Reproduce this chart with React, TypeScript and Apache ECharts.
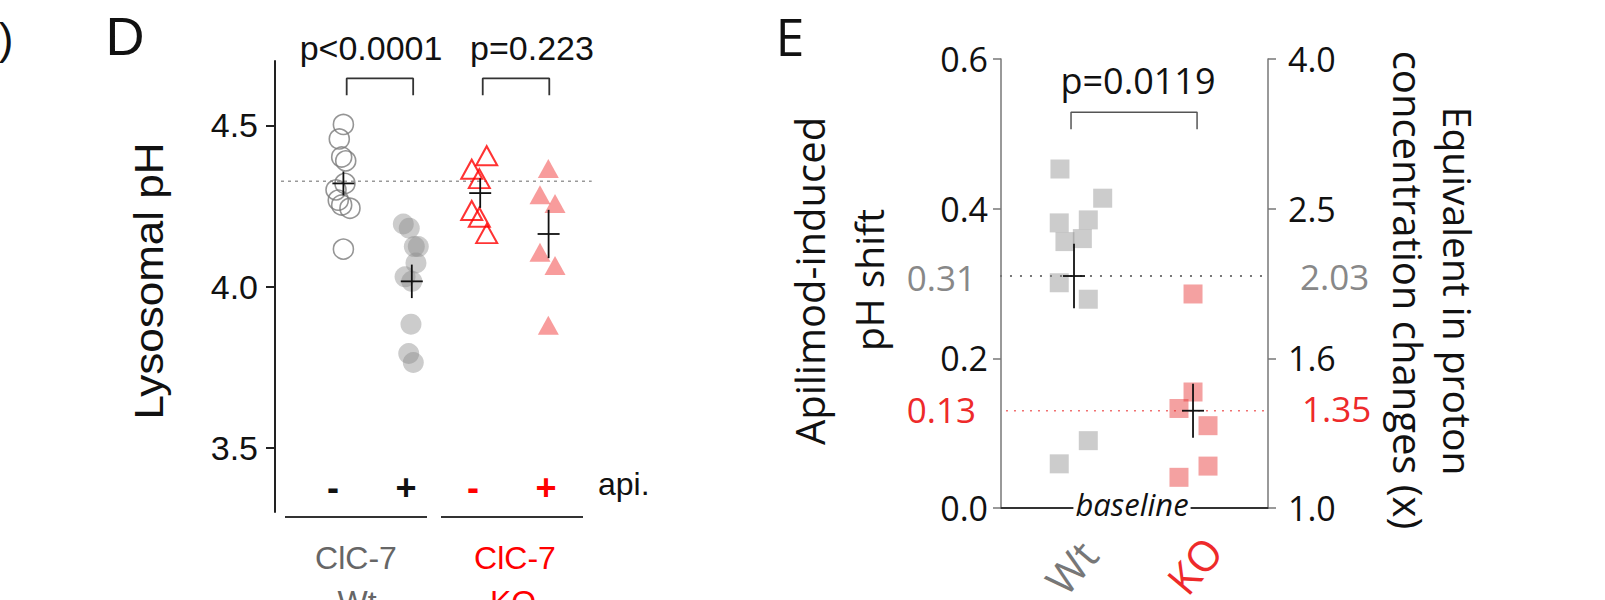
import React, { useEffect, useRef } from "react";
import * as echarts from "echarts";

// ---------- Panel D data (Lysosomal pH) ----------
const dGroups = ["ClC-7 Wt −", "ClC-7 Wt +", "ClC-7 KO −", "ClC-7 KO +"];
const dGroupPos = [1, 2, 3, 4];
const wtCtrl = [4.503, 4.458, 4.402, 4.39, 4.32, 4.3, 4.268, 4.253, 4.243, 4.116];
const wtCtrlJit = [0, -0.06, -0.025, 0.034, 0.023, -0.108, -0.075, -0.025, 0.096, 0];
const wtApi = [4.194, 4.181, 4.124, 4.124, 4.073, 4.03, 4.016, 3.883, 3.792, 3.764];
const wtApiJit = [-0.124, -0.037, 0.037, 0.095, 0.061, -0.099, 0, -0.012, -0.045, 0.022];
const koCtrl = [4.406, 4.364, 4.335, 4.236, 4.215, 4.164];
const koCtrlJit = [0.095, -0.124, -0.013, -0.124, -0.013, 0.095];
const koApi = [4.366, 4.285, 4.258, 4.106, 4.065, 3.88];
const koApiJit = [-0.004, -0.126, 0.094, -0.126, 0.094, -0.004];
const dMeans = [4.32, 4.016, 4.29, 4.163];
const dSems = [0.037, 0.052, 0.046, 0.075];
const dRefLine = 4.327;
const dTicks = [3.5, 4.0, 4.5];
const dPValues = ["p<0.0001", "p=0.223"];

// ---------- Panel E data (Apilimod-induced pH shift) ----------
const eGroups = ["Wt", "KO"];
const eGroupPos = [1, 2];
const wtShift = [0.453, 0.414, 0.381, 0.385, 0.356, 0.36, 0.301, 0.279, 0.09, 0.059];
const wtShiftJit = [-0.118, 0.241, -0.124, 0.12, -0.076, 0.07, -0.124, 0.12, 0.12, -0.124];
const koShift = [0.286, 0.155, 0.133, 0.11, 0.056, 0.041];
const koShiftJit = [0, 0, -0.118, 0.126, 0.126, -0.118];
const eMeans = [0.31, 0.13];
const eSems = [0.043, 0.036];
const eRightLabels: Record<string, string> = { "0": "1.0", "0.2": "1.6", "0.4": "2.5", "0.6": "4.0" };
const eMeanLabelsLeft = ["0.31", "0.13"];
const eMeanLabelsRight = ["2.03", "1.35"];
const ePValue = "p=0.0119";

const FD = "'Liberation Sans', Arial, Helvetica, sans-serif";
const FE = "'Open Sans', 'Noto Sans', sans-serif";
const RED = "#ff0000";
const RED_E = "#ee2a2a";

function pts(vals: number[], jit: number[], pos: number) {
  return vals.map((v, i) => [pos + jit[i], v]);
}

function txt(x: number, y: number, text: string, o: any = {}) {
  return {
    type: "text",
    x,
    y,
    rotation: o.rotation || 0,
    scaleX: o.scaleX || 1,
    scaleY: o.scaleY || 1,
    z: 100,
    style: {
      text,
      fontSize: o.size || 32,
      fontFamily: o.font || FD,
      fontWeight: o.weight || "normal",
      fontStyle: o.style || "normal",
      fill: o.color || "#111",
      align: o.align || "center",
      verticalAlign: "middle",
      textAlign: o.align || "center",
      textVerticalAlign: "middle",
      backgroundColor: o.bg,
      padding: o.pad,
    },
  };
}

function crossRender(params: any, api: any) {
  const x = api.value(0);
  const m = api.value(1);
  const s = api.value(2);
  const c = api.coord([x, m]);
  const t = api.coord([x, m + s]);
  const b = api.coord([x, m - s]);
  const st = { stroke: "#111", lineWidth: 1.8 };
  return {
    type: "group",
    children: [
      { type: "line", shape: { x1: c[0], y1: t[1], x2: c[0], y2: b[1] }, style: st },
      { type: "line", shape: { x1: c[0] - 11, y1: c[1], x2: c[0] + 11, y2: c[1] }, style: st },
    ],
  };
}

export default function App() {
  const ref = useRef<HTMLDivElement>(null);
  useEffect(() => {
    if (!ref.current) return;
    const chart = echarts.init(ref.current, undefined, { renderer: "svg" });

    const option: any = {
      animation: false,
      backgroundColor: "#ffffff",
      grid: [
        { left: 275, top: 61, width: 342, height: 451 },
        { left: 1001, top: 59, width: 267, height: 449 },
      ],
      xAxis: [
        { gridIndex: 0, type: "value", min: 0, max: 5, show: false },
        {
          gridIndex: 1,
          type: "value",
          min: 0.3866,
          max: 2.63,
          axisLine: { show: true, onZero: false, lineStyle: { color: "#333", width: 2 } },
          axisTick: { show: false },
          axisLabel: { show: false },
          splitLine: { show: false },
        },
      ],
      yAxis: [
        {
          gridIndex: 0,
          type: "value",
          min: 3.3,
          max: 4.7,
          offset: 9,
          axisLine: { show: true, lineStyle: { color: "#222", width: 2 } },
          axisTick: { show: true, length: 9, customValues: dTicks, lineStyle: { color: "#222", width: 2 } },
          axisLabel: {
            customValues: dTicks,
            fontSize: 34,
            fontFamily: FD,
            color: "#111",
            margin: 8,
            formatter: (v: number) => v.toFixed(1),
          },
          splitLine: { show: false },
        },
        {
          gridIndex: 1,
          type: "value",
          min: 0,
          max: 0.6,
          interval: 0.2,
          axisLine: { show: true, lineStyle: { color: "#777", width: 1.5 } },
          axisTick: { show: true, length: 8, lineStyle: { color: "#777", width: 1.5 } },
          axisLabel: {
            fontSize: 34,
            fontFamily: FE,
            color: "#111",
            margin: 13,
            showMinLabel: true,
            showMaxLabel: true,
            formatter: (v: number) => v.toFixed(1),
          },
          splitLine: { show: false },
        },
        {
          gridIndex: 1,
          type: "value",
          position: "right",
          min: 0,
          max: 0.6,
          interval: 0.2,
          axisLine: { show: true, lineStyle: { color: "#777", width: 1.5 } },
          axisTick: { show: true, length: 8, lineStyle: { color: "#777", width: 1.5 } },
          axisLabel: {
            fontSize: 34,
            fontFamily: FE,
            color: "#111",
            margin: 20,
            showMinLabel: true,
            showMaxLabel: true,
            formatter: (v: number) => eRightLabels[String(Math.round(v * 10) / 10)] || "",
          },
          splitLine: { show: false },
        },
      ],
      series: [
        // Panel D reference line
        {
          type: "line",
          xAxisIndex: 0,
          yAxisIndex: 0,
          data: [
            [0.088, dRefLine],
            [4.63, dRefLine],
          ],
          symbol: "none",
          silent: true,
          lineStyle: { color: "#999", width: 1.5, type: [3, 4] },
          z: 1,
        },
        // brackets D
        {
          type: "line",
          xAxisIndex: 0,
          yAxisIndex: 0,
          data: [
            [dGroupPos[0] + 0.048, 4.594],
            [dGroupPos[0] + 0.048, 4.646],
            [dGroupPos[1] + 0.02, 4.646],
            [dGroupPos[1] + 0.02, 4.594],
          ],
          symbol: "none",
          silent: true,
          clip: false,
          lineStyle: { color: "#333", width: 1.8 },
        },
        {
          type: "line",
          xAxisIndex: 0,
          yAxisIndex: 0,
          data: [
            [dGroupPos[2] + 0.037, 4.594],
            [dGroupPos[2] + 0.037, 4.646],
            [dGroupPos[3] + 0.01, 4.646],
            [dGroupPos[3] + 0.01, 4.594],
          ],
          symbol: "none",
          silent: true,
          clip: false,
          lineStyle: { color: "#333", width: 1.8 },
        },
        {
          name: dGroups[0],
          type: "scatter",
          xAxisIndex: 0,
          yAxisIndex: 0,
          data: pts(wtCtrl, wtCtrlJit, dGroupPos[0]),
          symbol: "circle",
          symbolSize: 20,
          itemStyle: { color: "rgba(255,255,255,0)", borderColor: "#7a7a7a", borderWidth: 1.6 },
          z: 2,
        },
        {
          name: dGroups[1],
          type: "scatter",
          xAxisIndex: 0,
          yAxisIndex: 0,
          data: pts(wtApi, wtApiJit, dGroupPos[1]),
          symbol: "circle",
          symbolSize: 21,
          itemStyle: { color: "rgba(140,140,140,0.55)" },
          z: 2,
        },
        {
          name: dGroups[2],
          type: "scatter",
          xAxisIndex: 0,
          yAxisIndex: 0,
          data: pts(koCtrl, koCtrlJit, dGroupPos[2]),
          symbol: "triangle",
          symbolSize: [21, 19],
          itemStyle: { color: "rgba(255,255,255,0)", borderColor: RED, borderWidth: 2 },
          z: 2,
        },
        {
          name: dGroups[3],
          type: "scatter",
          xAxisIndex: 0,
          yAxisIndex: 0,
          data: pts(koApi, koApiJit, dGroupPos[3]),
          symbol: "triangle",
          symbolSize: [21, 19],
          itemStyle: { color: "rgba(240,30,30,0.55)" },
          z: 2,
        },
        {
          type: "custom",
          xAxisIndex: 0,
          yAxisIndex: 0,
          renderItem: crossRender,
          data: dGroupPos.map((p, i) => [p, dMeans[i], dSems[i]]),
          encode: { x: 0, y: 1 },
          silent: true,
          z: 5,
        },
        // Panel E mean lines
        {
          type: "line",
          xAxisIndex: 1,
          yAxisIndex: 1,
          data: [
            [0.294, eMeans[0]],
            [2.756, eMeans[0]],
          ],
          symbol: "none",
          silent: true,
          clip: false,
          lineStyle: { color: "#777", width: 2, type: [2, 8] },
          z: 1,
        },
        {
          type: "line",
          xAxisIndex: 1,
          yAxisIndex: 1,
          data: [
            [0.294, eMeans[1]],
            [2.756, eMeans[1]],
          ],
          symbol: "none",
          silent: true,
          clip: false,
          lineStyle: { color: "#f07070", width: 1.5, type: [2, 6] },
          z: 1,
        },
        {
          type: "line",
          xAxisIndex: 1,
          yAxisIndex: 1,
          data: [
            [0.975, 0.506],
            [0.975, 0.529],
            [2.034, 0.529],
            [2.034, 0.506],
          ],
          symbol: "none",
          silent: true,
          lineStyle: { color: "#555", width: 1.5 },
        },
        {
          name: eGroups[0],
          type: "scatter",
          xAxisIndex: 1,
          yAxisIndex: 1,
          data: pts(wtShift, wtShiftJit, eGroupPos[0]),
          symbol: "rect",
          symbolSize: 19,
          itemStyle: { color: "rgba(140,140,140,0.55)" },
          z: 2,
        },
        {
          name: eGroups[1],
          type: "scatter",
          xAxisIndex: 1,
          yAxisIndex: 1,
          data: pts(koShift, koShiftJit, eGroupPos[1]),
          symbol: "rect",
          symbolSize: 19,
          itemStyle: { color: "rgba(230,40,40,0.55)" },
          z: 2,
        },
        {
          type: "custom",
          xAxisIndex: 1,
          yAxisIndex: 1,
          renderItem: crossRender,
          data: eGroupPos.map((p, i) => [p, eMeans[i], eSems[i]]),
          encode: { x: 0, y: 1 },
          silent: true,
          z: 5,
        },
      ],
      graphic: [
        // Panel D
        txt(6, 38, ")", { size: 44 }),
        txt(125, 36, "D", { size: 54 }),
        txt(149, 281, "Lysosomal pH", { size: 40, rotation: Math.PI / 2, scaleX: 1.1 }),
        txt(371, 48, dPValues[0], { size: 34 }),
        txt(532, 48, dPValues[1], { size: 34 }),
        txt(333, 487, "-", { size: 36, weight: "bold" }),
        txt(406, 487, "+", { size: 36, weight: "bold" }),
        txt(473, 487, "-", { size: 36, weight: "bold", color: RED }),
        txt(546, 487, "+", { size: 36, weight: "bold", color: RED }),
        txt(598, 484, "api.", { size: 32, align: "left" }),
        { type: "line", shape: { x1: 285, y1: 517, x2: 427, y2: 517 }, style: { stroke: "#333", lineWidth: 2 } },
        { type: "line", shape: { x1: 441, y1: 517, x2: 583, y2: 517 }, style: { stroke: "#333", lineWidth: 2 } },
        txt(356, 558, "ClC-7", { size: 32, color: "#666" }),
        txt(357, 602, "Wt", { size: 32, color: "#666" }),
        txt(515, 558, "ClC-7", { size: 32, color: RED }),
        txt(513, 602, "KO", { size: 32, color: RED }),
        // Panel E
        txt(790, 35, "E", { size: 52, font: FE }),
        txt(809, 281, "Apilimod-induced", { size: 40, font: FE, rotation: Math.PI / 2 }),
        txt(868, 280, "pH shift", { size: 39, font: FE, rotation: Math.PI / 2 }),
        txt(1458, 291, "Equivalent in proton", { size: 39, font: FE, rotation: -Math.PI / 2 }),
        txt(1408, 290, "concentration changes (x)", { size: 40, font: FE, rotation: -Math.PI / 2 }),
        txt(1138, 80, ePValue, { size: 36, font: FE }),
        txt(976, 277, eMeanLabelsLeft[0], { size: 35, font: FE, color: "#888", align: "right" }),
        txt(976, 409, eMeanLabelsLeft[1], { size: 35, font: FE, color: RED_E, align: "right" }),
        txt(1300, 276, eMeanLabelsRight[0], { size: 35, font: FE, color: "#888", align: "left" }),
        txt(1302, 408, eMeanLabelsRight[1], { size: 35, font: FE, color: RED_E, align: "left" }),
        txt(1132, 504, "baseline", { size: 31, font: FE, style: "italic", bg: "#fff", pad: [0, 2] }),
        txt(1071, 567, eGroups[0], { size: 42, font: FE, color: "#777", rotation: (50 * Math.PI) / 180 }),
        txt(1194, 565, eGroups[1], { size: 42, font: FE, color: RED_E, rotation: (50 * Math.PI) / 180 }),
      ],
    };

    chart.setOption(option);
    return () => chart.dispose();
  }, []);

  return (
    <div
      ref={ref}
      style={{ position: "absolute", left: 0, top: 0, width: 1605, height: 600, background: "#fff" }}
    />
  );
}
